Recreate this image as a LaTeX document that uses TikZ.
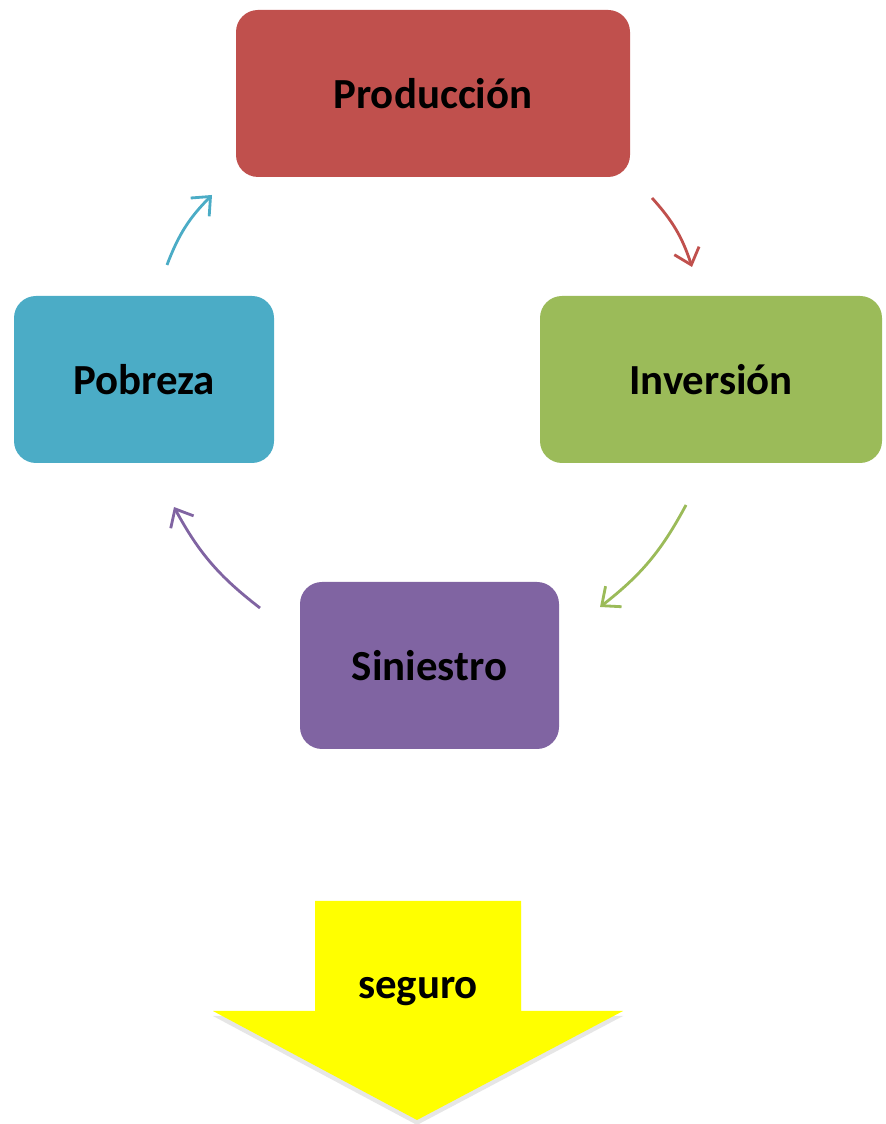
\documentclass[tikz,border=0pt]{standalone}
\usepackage{fontspec}
\setmainfont{Carlito}
\usetikzlibrary{arrows.meta,shadows}
\definecolor{prodred}{HTML}{C0504D}
\definecolor{invgreen}{HTML}{9BBB59}
\definecolor{pobblue}{HTML}{4BACC6}
\definecolor{sinpurple}{HTML}{8064A2}
\definecolor{segyellow}{HTML}{FFFF00}
\tikzstyle{box} = [rectangle, rounded corners=0.22cm, align=center, inner sep=0pt,
    minimum height=1.67cm, font=\fontsize{12.2}{15}\selectfont\bfseries]
\tikzstyle{arrow} = [line width=0.8pt, -{Straight Barb[length=1.5mm,width=2.6mm]}]

\begin{document}
\begin{tikzpicture}
            \useasboundingbox (0,0) rectangle (8.85,11.24);
            \node[box, fill=prodred, minimum width=3.94cm]
                (prod) at (4.33,10.305) {Producción};
            \node[box, fill=invgreen, minimum width=3.42cm]
                (inv) at (7.11,7.445) {Inversión};
            \node[box, fill=pobblue, minimum width=2.60cm]
                (pob) at (1.44,7.445) {Pobreza};
            \node[box, fill=sinpurple, minimum width=2.59cm]
                (sin) at (4.295,4.585) {Siniestro};
            % free ends of the cycle arrows
            \coordinate (r1) at (6.52,9.26);
            \coordinate (r2) at (6.92,8.57);
            \coordinate (g1) at (6.86,6.19);
            \coordinate (g2) at (6.00,5.17);
            \coordinate (p1) at (2.60,5.16);
            \coordinate (p2) at (1.74,6.17);
            \coordinate (b1) at (1.67,8.59);
            \coordinate (b2) at (2.12,9.29);
            \draw[arrow, prodred] (r1) to[bend left=12] (r2);
            \draw[arrow, invgreen] (g1) to[bend left=12] (g2);
            \draw[arrow, sinpurple] (p1) to[bend left=12] (p2);
            \draw[arrow, pobblue] (b1) to[bend left=12] (b2);
            % big down arrow
            \fill[segyellow, drop shadow={shadow xshift=0pt, shadow yshift=-0.05cm, opacity=0.2}]
                (3.15,2.23) -- (5.21,2.23) -- (5.21,1.13) -- (6.23,1.13)
                -- (4.17,0.04) -- (2.13,1.13) -- (3.15,1.13) -- cycle;
            \node[font=\fontsize{12.2}{15}\selectfont\bfseries]
                (seg) at (4.18,1.32) {seguro};
        \end{tikzpicture}
\end{document}
